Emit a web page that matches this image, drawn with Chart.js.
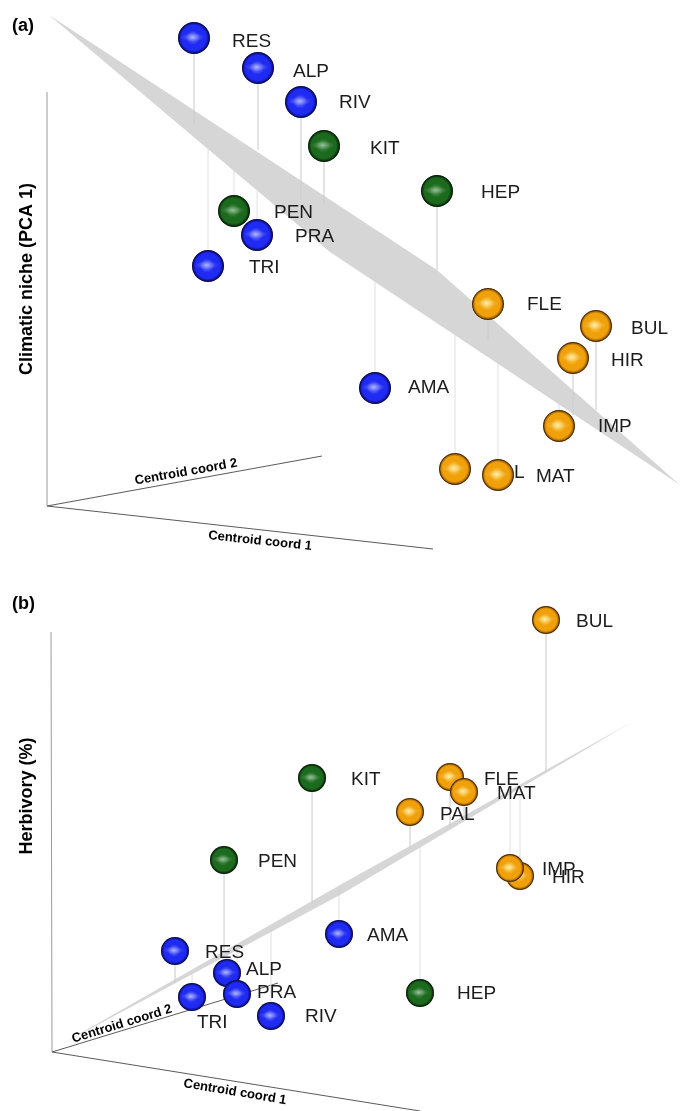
<!DOCTYPE html>
<html>
<head>
<meta charset="utf-8">
<script src="https://cdn.jsdelivr.net/npm/chart.js@4.4.1/dist/chart.umd.min.js"></script>
<style>
  html, body { margin: 0; padding: 0; background: #fff; }
  .panel { position: relative; width: 680px; }
  canvas { display: block; }
</style>
</head>
<body>
<div class="panel" style="height:560px"><canvas id="chartA" width="680" height="560"></canvas></div>
<div class="panel" style="height:551px"><canvas id="chartB" width="680" height="551"></canvas></div>
<script>
// Panel (a): climatic niche (PCA 1) against the two centroid coordinates,
// values are the projected positions read off the 3D view
const namesA  = ['RES', 'ALP', 'RIV', 'KIT', 'HEP', 'PEN', 'PRA', 'TRI', 'AMA', 'FLE', 'BUL', 'HIR', 'IMP', 'PAL', 'MAT'];
const groupA  = ['blue', 'blue', 'blue', 'green', 'green', 'green', 'blue', 'blue', 'blue', 'orange', 'orange', 'orange', 'orange', 'orange', 'orange'];
const xA      = [194, 258, 301, 324, 437, 234, 257, 208, 375, 488, 596, 573, 559, 455, 498];
const yA      = [38, 68, 102, 146, 191, 211, 235, 266, 388, 304, 326, 358, 426, 469, 475];
const hitA    = [125, 150, 200, 205, 270, 171, 191, 149, 282, 340, 410, 415, 404, 335, 363];
const labelXA = [232, 293, 339, 370, 481, 274, 295, 249, 408, 527, 631, 611, 598, 490, 536];
const labelYA = [42, 72, 103, 149, 193, 213, 237, 268, 388, 305, 329, 361, 427, 473, 477];
const planeXA = [49, 437, 680, 330, 49];
const planeYA = [15, 270, 485, 252, 15];
const originA = [47, 506];
const axisEndXA = [47, 322, 433];
const axisEndYA = [92, 456, 549];

// Panel (b): herbivory (%) against the two centroid coordinates
const namesB  = ['BUL', 'KIT', 'FLE', 'MAT', 'PAL', 'PEN', 'HIR', 'IMP', 'AMA', 'HEP', 'RES', 'TRI', 'ALP', 'PRA', 'RIV'];
const groupB  = ['orange', 'green', 'orange', 'orange', 'orange', 'green', 'orange', 'orange', 'blue', 'green', 'blue', 'blue', 'blue', 'blue', 'blue'];
const xB      = [546, 312, 450, 464, 410, 224, 520, 510, 339, 420, 175, 192, 227, 237, 271];
const yB      = [620, 778, 777, 792, 812, 860, 876, 868, 934, 993, 951, 997, 973, 994, 1016];
const hitB    = [772, 903, 826, 818, 848, 953, 790, 795, 890, 846, 983, 973, 954, 948, 929];
const labelXB = [576, 351, 484, 497, 440, 258, 552, 542, 367, 457, 205, 197, 246, 257, 305];
const labelYB = [622, 780, 780, 794, 815, 862, 878, 870, 936, 994, 953, 1023, 970, 993, 1017];
const planeXB = [60, 340, 632, 340, 60];
const planeYB = [1045, 885, 722, 895, 1045];
const originB = [52, 1052];
const axisEndXB = [51, 278, 420];
const axisEndYB = [632, 983, 1111];

const SPHERE_COLORS = {
    blue:   { hi: '#7f8cff', mid: '#1f2af2', lo: '#06066e' },
    green:  { hi: '#5f9e60', mid: '#1b6a1d', lo: '#042204' },
    orange: { hi: '#ffe37a', mid: '#f0a10a', lo: '#7a4000' }
};

// Render a shaded ball once per colour, used as point style
function sphereImage(c, r) {
    const size = Math.ceil(r * 2 + 2);
    const cv = document.createElement('canvas');
    cv.width = cv.height = size;
    const g = cv.getContext('2d');
    const cx = size / 2, cy = size / 2;

    const grad = g.createRadialGradient(cx - r * 0.1, cy - r * 0.05, 0, cx, cy, r);
    grad.addColorStop(0, c.hi);
    grad.addColorStop(0.45, c.mid);
    grad.addColorStop(0.78, c.mid);
    grad.addColorStop(1, c.lo);
    g.fillStyle = grad;
    g.beginPath();
    g.arc(cx, cy, r, 0, Math.PI * 2);
    g.fill();

    // soft flat highlight band across the middle
    g.save();
    g.translate(cx - r * 0.08, cy - r * 0.05);
    g.scale(1, 0.35);
    const hl = g.createRadialGradient(0, 0, 0, 0, 0, r * 0.75);
    hl.addColorStop(0, 'rgba(255,255,255,0.35)');
    hl.addColorStop(1, 'rgba(255,255,255,0)');
    g.fillStyle = hl;
    g.beginPath();
    g.arc(0, 0, r * 0.75, 0, Math.PI * 2);
    g.fill();
    g.restore();

    g.strokeStyle = 'rgba(15,15,15,0.55)';
    g.lineWidth = 1;
    g.beginPath();
    g.arc(cx, cy, r - 0.5, 0, Math.PI * 2);
    g.stroke();
    return cv;
}

// Species names go under the balls but over the plane
const sphereLabels = {
    id: 'sphereLabels',
    beforeDatasetDraw(chart, args) {
        const ds = chart.data.datasets[args.index];
        if (ds.label !== 'spheres') return;
        const p = chart.options.plugins.sphereLabels;
        const xs = chart.scales.x, ys = chart.scales.y;
        const ctx = chart.ctx;
        ctx.save();
        ctx.font = '19px "Liberation Sans", Arial, sans-serif';
        ctx.fillStyle = '#1c1c1c';
        ctx.textAlign = 'left';
        ctx.textBaseline = 'middle';
        p.names.forEach((n, i) => {
            ctx.fillText(n, xs.getPixelForValue(p.lx[i]), ys.getPixelForValue(p.ly[i]));
        });
        ctx.restore();
    }
};

// Panel letter, vertical title and the two slanted axis names
const panelTexts = {
    id: 'panelTexts',
    afterDraw(chart) {
        const t = chart.options.plugins.panelTexts;
        const xs = chart.scales.x, ys = chart.scales.y;
        const ctx = chart.ctx;
        t.items.forEach(it => {
            ctx.save();
            ctx.translate(xs.getPixelForValue(it.x), ys.getPixelForValue(it.y));
            ctx.rotate(it.angle * Math.PI / 180);
            ctx.font = 'bold ' + it.size + 'px "Liberation Sans", Arial, sans-serif';
            ctx.fillStyle = '#000';
            ctx.textAlign = it.align || 'center';
            ctx.textBaseline = 'middle';
            ctx.fillText(it.text, 0, 0);
            ctx.restore();
        });
    }
};

function buildPanel(id, p) {
    const imgs = {};
    const styles = p.group.map(k => imgs[k] || (imgs[k] = sphereImage(SPHERE_COLORS[k], p.radius)));
    const datasets = [];

    datasets.push({
        label: 'spheres',
        type: 'scatter',
        data: p.x.map((v, i) => ({ x: v, y: p.y[i] })),
        pointStyle: styles,
        pointRadius: p.radius,
        clip: false,
        order: 0
    });

    datasets.push({
        label: 'plane',
        type: 'line',
        data: p.planeX.map((v, i) => ({ x: v, y: p.planeY[i] })),
        fill: 'shape',
        backgroundColor: 'rgba(205,205,205,0.82)',
        borderWidth: 0,
        pointRadius: 0,
        tension: 0,
        order: 1
    });

    p.x.forEach((v, i) => {
        datasets.push({
            label: 'drop',
            type: 'line',
            data: [{ x: v, y: p.y[i] }, { x: v, y: p.hit[i] }],
            borderColor: '#e0e0e0',
            borderWidth: 1,
            pointRadius: 0,
            order: 2
        });
    });

    p.axisEndX.forEach((v, i) => {
        datasets.push({
            label: 'axis',
            type: 'line',
            data: [{ x: p.origin[0], y: p.origin[1] }, { x: v, y: p.axisEndY[i] }],
            borderColor: i === 0 ? '#9a9a9a' : '#5a5a5a',
            borderWidth: 1,
            pointRadius: 0,
            order: 3
        });
    });

    return new Chart(document.getElementById(id).getContext('2d'), {
        type: 'scatter',
        data: { datasets: datasets },
        options: {
            responsive: false,
            animation: false,
            events: [],
            layout: { padding: 0, autoPadding: false },
            scales: {
                x: { type: 'linear', min: 0, max: 680, display: false },
                y: { type: 'linear', min: p.yMin, max: p.yMax, reverse: true, display: false }
            },
            plugins: {
                legend: { display: false },
                tooltip: { enabled: false },
                sphereLabels: { names: p.names, lx: p.lx, ly: p.ly },
                panelTexts: { items: p.texts }
            }
        },
        plugins: [sphereLabels, panelTexts]
    });
}

buildPanel('chartA', {
    names: namesA, group: groupA, x: xA, y: yA, hit: hitA, lx: labelXA, ly: labelYA,
    planeX: planeXA, planeY: planeYA, origin: originA, axisEndX: axisEndXA, axisEndY: axisEndYA,
    radius: 16, yMin: 0, yMax: 560,
    texts: [
        { text: '(a)', x: 12, y: 26, angle: 0, size: 18, align: 'left' },
        { text: 'Climatic niche (PCA 1)', x: 27, y: 279, angle: -90, size: 18 },
        { text: 'Centroid coord 2', x: 186, y: 472, angle: -10, size: 13 },
        { text: 'Centroid coord 1', x: 260, y: 541, angle: 6, size: 13 }
    ]
});

buildPanel('chartB', {
    names: namesB, group: groupB, x: xB, y: yB, hit: hitB, lx: labelXB, ly: labelYB,
    planeX: planeXB, planeY: planeYB, origin: originB, axisEndX: axisEndXB, axisEndY: axisEndYB,
    radius: 14, yMin: 560, yMax: 1111,
    texts: [
        { text: '(b)', x: 12, y: 604, angle: 0, size: 18, align: 'left' },
        { text: 'Herbivory (%)', x: 27, y: 796, angle: -90, size: 18 },
        { text: 'Centroid coord 2', x: 122, y: 1024, angle: -17, size: 13 },
        { text: 'Centroid coord 1', x: 235, y: 1092, angle: 9.5, size: 13 }
    ]
});
</script>
</body>
</html>
